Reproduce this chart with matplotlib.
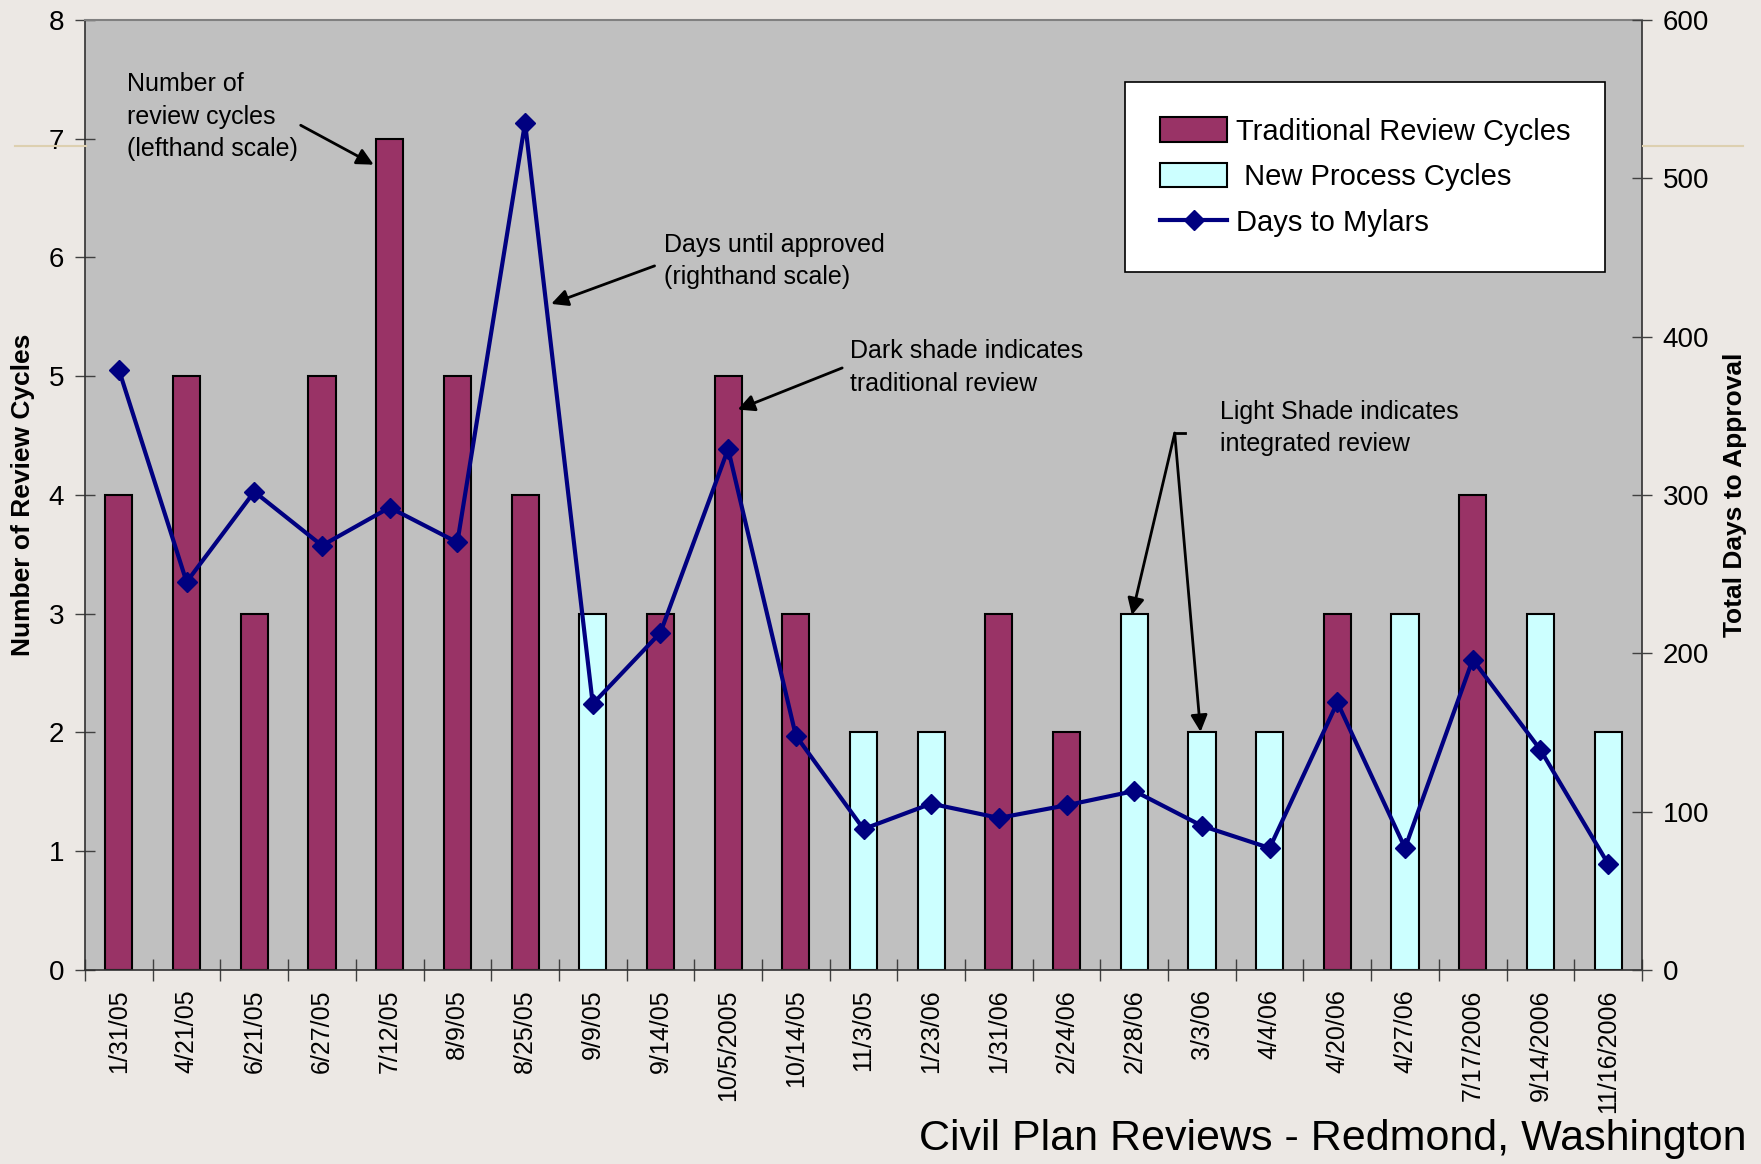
import numpy as np
import matplotlib.pyplot as plt
from matplotlib.patches import Patch
from matplotlib.lines import Line2D

plt.rcParams['font.family'] = ['Liberation Sans', 'DejaVu Sans']

# data
dates = ["1/31/05", "4/21/05", "6/21/05", "6/27/05", "7/12/05", "8/9/05", "8/25/05",
         "9/9/05", "9/14/05", "10/5/2005", "10/14/05", "11/3/05", "1/23/06", "1/31/06",
         "2/24/06", "2/28/06", "3/3/06", "4/4/06", "4/20/06", "4/27/06", "7/17/2006",
         "9/14/2006", "11/16/2006"]
cycles = [4, 5, 3, 5, 7, 5, 4, 3, 3, 5, 3, 2, 2, 3, 2, 3, 2, 2, 3, 3, 4, 3, 2]
# T = traditional review, N = new (integrated) process
review_type = ["T", "T", "T", "T", "T", "T", "T", "N", "T", "T", "T", "N", "N", "T",
               "T", "N", "N", "N", "T", "N", "T", "N", "N"]
days = [379, 245, 302, 268, 292, 270, 535, 168, 213, 329, 148, 89, 105, 96,
        104, 113, 91, 77, 169, 77, 196, 139, 67]

col_trad = '#993366'
col_new = '#CCFFFF'
col_line = '#000080'
bg = '#ECE8E4'

fig = plt.figure(figsize=(17.61, 11.64), dpi=100, facecolor=bg)
ax = fig.add_axes([0.0483, 0.1667, 0.8841, 0.8163])
ax.set_facecolor('#C0C0C0')

x = np.arange(len(dates))
colors = [col_trad if t == "T" else col_new for t in review_type]
ax.bar(x, cycles, width=0.4, color=colors, edgecolor='black', linewidth=1.5, zorder=2)

ax.set_xlim(-0.5, len(dates) - 0.5)
ax.set_ylim(0, 8)
ax.set_yticks(range(0, 9))
ax.set_xticks(x)
ax.set_xticklabels(dates, rotation=90, fontsize=18)
ax.set_xticks(np.arange(-0.5, len(dates)), minor=True)
ax.tick_params(axis='x', which='major', length=0, pad=14)
ax.tick_params(axis='x', which='minor', direction='inout', length=16, width=1, color='#404040')
ax.tick_params(axis='y', direction='inout', length=14, width=1, color='#404040', labelsize=20, pad=8)
ax.set_ylabel('Number of Review Cycles', fontsize=19, fontweight='bold', labelpad=10)

for s in ['left', 'right', 'bottom']:
    ax.spines[s].set_color('#303030')
    ax.spines[s].set_linewidth(1.2)
ax.spines['top'].set_color('#808080')
ax.spines['top'].set_linewidth(1.5)

ax2 = ax.twinx()
ax2.plot(x, days, color=col_line, linewidth=3, marker='D', markersize=10, zorder=3)
ax2.set_ylim(0, 600)
ax2.set_yticks(range(0, 601, 100))
ax2.tick_params(axis='y', direction='inout', length=14, width=1, color='#404040', labelsize=20, pad=8)
ax2.set_ylabel('Total Days to Approval', fontsize=19, fontweight='bold', labelpad=10)
for s in ax2.spines.values():
    s.set_visible(False)

# annotations
arrow = dict(arrowstyle='-|>', color='black', lw=2, mutation_scale=25, shrinkA=0, shrinkB=0)
note = dict(transform=ax2.transAxes, fontsize=18, va='top', ha='left', linespacing=1.45)
ax2.text(0.0267, 0.945, "Number of\nreview cycles\n(lefthand scale)", **note)
ax2.annotate("", xy=(0.1854, 0.8475), xytext=(0.1385, 0.889), xycoords='axes fraction',
             arrowprops=arrow)
ax2.text(0.3716, 0.776, "Days until approved\n(righthand scale)", **note)
ax2.annotate("", xy=(0.2994, 0.701), xytext=(0.3658, 0.741), xycoords='axes fraction',
             arrowprops=arrow)
ax2.text(0.4913, 0.664, "Dark shade indicates\ntraditional review", **note)
ax2.annotate("", xy=(0.4192, 0.5898), xytext=(0.4863, 0.6336), xycoords='axes fraction',
             arrowprops=arrow)
ax2.text(0.7287, 0.600, "Light Shade indicates\nintegrated review", **note)
ax2.plot([0.6999, 0.7065], [0.565, 0.565], color='black', lw=2, transform=ax2.transAxes)
ax2.annotate("", xy=(0.6724, 0.3735), xytext=(0.6999, 0.565), xycoords='axes fraction',
             arrowprops=arrow)
ax2.annotate("", xy=(0.7165, 0.2506), xytext=(0.6999, 0.565), xycoords='axes fraction',
             arrowprops=arrow)

# legend
handles = [Patch(facecolor=col_trad, edgecolor='black', linewidth=1.5),
           Patch(facecolor=col_new, edgecolor='black', linewidth=1.5),
           Line2D([], [], color=col_line, linewidth=3, marker='D', markersize=10)]
labels = ["Traditional Review Cycles", " New Process Cycles", "Days to Mylars"]
leg = ax2.legend(handles, labels, loc='upper left', bbox_to_anchor=(0.668, 0.934),
                 fontsize=21, frameon=True, fancybox=False, framealpha=1,
                 edgecolor='black', borderpad=1.2, labelspacing=0.6,
                 handlelength=2.3, handleheight=0.9, handletextpad=0.3, borderaxespad=0)
leg.get_frame().set_linewidth(1.2)

fig.text(0.9917, 0.004, "Civil Plan Reviews - Redmond, Washington", fontsize=31,
         ha='right', va='bottom')

# decorative tan rule lines at the page edges
fig.add_artist(Line2D([0.0085, 0.0488], [0.8746, 0.8746], color='#DDD0B0', lw=1.5,
                      transform=fig.transFigure))
fig.add_artist(Line2D([0.933, 0.990], [0.8746, 0.8746], color='#DDD0B0', lw=1.5,
                      transform=fig.transFigure))

fig.savefig('out.png', dpi=100, facecolor=bg)
